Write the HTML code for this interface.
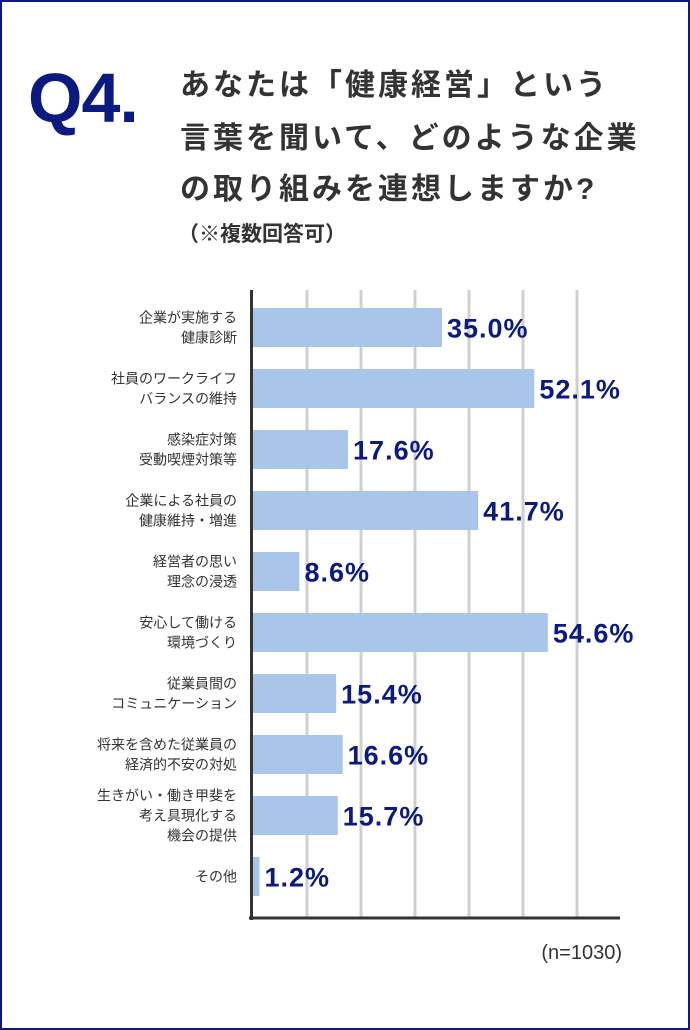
<!DOCTYPE html>
<html><head><meta charset="utf-8"><style>
body{margin:0;width:690px;height:1030px;overflow:hidden;background:#fff;font-family:"Liberation Sans","Noto Sans CJK JP",sans-serif}
#frame{position:absolute;left:0;top:0;width:686px;height:1026px;border:2px solid #0b1a7e}
.q{position:absolute;left:28px;top:58px;font:bold 70px "Liberation Sans",sans-serif;color:#0b1a7e;letter-spacing:-1px}
.t{position:absolute;left:180px;font-weight:bold;font-size:30px;letter-spacing:3px;color:#333;line-height:34px;white-space:nowrap}
.s{position:absolute;left:178px;top:218px;font-weight:bold;font-size:21px;color:#333}
</style></head><body>
<div id="frame"></div>
<div class="q">Q4.</div>
<div class="t" style="top:69px">あなたは「健康経営」という</div>
<div class="t" style="top:122px">言葉を聞いて、どのような企業</div>
<div class="t" style="top:173px">の取り組みを連想しますか?</div>
<div class="s">（※複数回答可）</div>
<svg id="chart" width="690" height="1030" style="position:absolute;left:0;top:0"></svg>
<script>
const categories=[["企業が実施する","健康診断"],["社員のワークライフ","バランスの維持"],["感染症対策","受動喫煙対策等"],["企業による社員の","健康維持・増進"],["経営者の思い","理念の浸透"],["安心して働ける","環境づくり"],["従業員間の","コミュニケーション"],["将来を含めた従業員の","経済的不安の対処"],["生きがい・働き甲斐を","考え具現化する","機会の提供"],["その他"]];
const values=[35.0,52.1,17.6,41.7,8.6,54.6,15.4,16.6,15.7,1.2];
const valueLabels=["35.0%","52.1%","17.6%","41.7%","8.6%","54.6%","15.4%","16.6%","15.7%","1.2%"];
const gridTicks=[10,20,30,40,50,60];
const note="(n=1030)";
const NS="http://www.w3.org/2000/svg";
const svg=document.getElementById('chart');
const x0=253,k=5.4,top0=308,step=61,bh=39;
const xs=v=>x0+v*k;
const yc=i=>top0+i*step+bh/2;
function mk(t,a,p){const e=document.createElementNS(NS,t);for(const n in a)e.setAttribute(n,a[n]);(p||svg).appendChild(e);return e;}
gridTicks.forEach(g=>{const l=mk('line',{x1:xs(g),x2:xs(g),y1:290,y2:918,stroke:'#cfcfcf','stroke-width':3});

});
values.forEach((v,i)=>{
const r=mk('rect',{x:x0,y:top0+i*step,width:v*k,height:bh,fill:'#a9c6ea'});


const t=mk('text',{x:xs(v)+5,y:yc(i)+10,'font-size':27,'font-weight':'bold',fill:'#0b1a7e','font-family':'Liberation Sans, sans-serif','letter-spacing':'1'});
t.textContent=valueLabels[i];


const lines=categories[i];const lh=20;
const c=mk('text',{x:237,'text-anchor':'end','font-size':14,fill:'#333','font-family':'Liberation Sans, Noto Sans CJK JP, sans-serif'});


lines.forEach((s,j)=>{const ts=mk('tspan',{x:237,y:yc(i)+5+(j-(lines.length-1)/2)*lh},c);ts.textContent=s;});
});
const ax=mk('line',{x1:x0-1.5,x2:x0-1.5,y1:290,y2:920,stroke:'#333','stroke-width':3});


const bx=mk('line',{x1:249,x2:620,y1:918,y2:918,stroke:'#333','stroke-width':3});


const n=mk('text',{x:622,y:959,'text-anchor':'end','font-size':20,fill:'#333','font-family':'Liberation Sans, sans-serif'});
n.textContent=note;


</script>
</body></html>
